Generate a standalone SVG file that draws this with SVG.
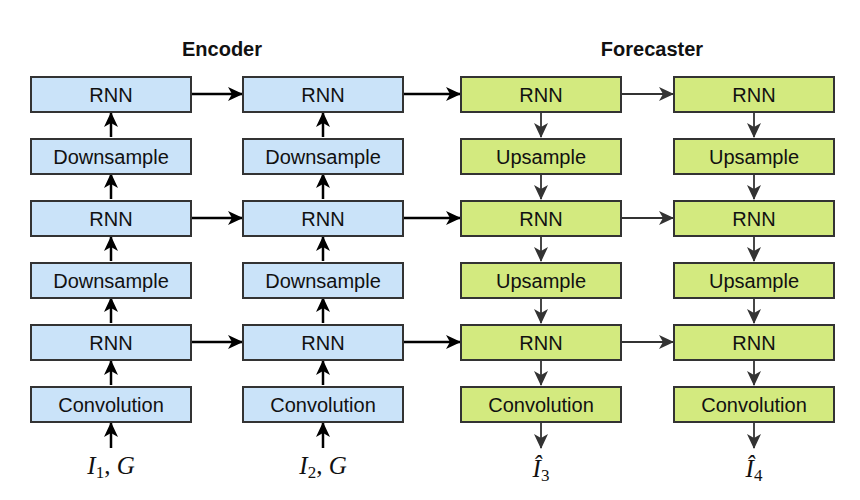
<svg xmlns="http://www.w3.org/2000/svg" width="860" height="500" viewBox="0 0 860 500">
<style>
.enc rect{fill:#cae3f9;stroke:#333;stroke-width:2}
.fc rect{fill:#d3ea7f;stroke:#333;stroke-width:2}
.lbl{font-family:"Liberation Sans",Arial,sans-serif;font-size:20px;fill:#111;text-anchor:middle}
.title{font-family:"Liberation Sans",Arial,sans-serif;font-size:20px;font-weight:bold;fill:#111;text-anchor:middle}
.math{font-family:"Liberation Serif","Times New Roman",serif;font-size:25px;fill:#111;text-anchor:middle}
.blk{stroke:#000;stroke-width:2.5;fill:none;marker-end:url(#ab)}
.gry{stroke:#333;stroke-width:1.8;fill:none;marker-end:url(#ag)}
</style>
<defs>
<marker id="ab" markerUnits="userSpaceOnUse" markerWidth="16" markerHeight="14" refX="14" refY="7" orient="auto" viewBox="0 0 16 14">
<path d="M0,0 L15,7 L0,14 L4,7 z" fill="#000"/>
</marker>
<marker id="ag" markerUnits="userSpaceOnUse" markerWidth="16" markerHeight="14" refX="14" refY="7" orient="auto" viewBox="0 0 16 14">
<path d="M0,0 L15,7 L0,14 L4,7 z" fill="#333"/>
</marker>
</defs>
<text class="title" x="222" y="56">Encoder</text>
<text class="title" x="652" y="56">Forecaster</text>

<g id="connectors">
<path class="blk" d="M111,448 V423"/>
<path class="blk" d="M111,385 V361"/>
<path class="blk" d="M111,323 V298"/>
<path class="blk" d="M111,261 V237"/>
<path class="blk" d="M111,199 V174"/>
<path class="blk" d="M111,137 V113"/>
<path class="blk" d="M323,448 V423"/>
<path class="blk" d="M323,385 V361"/>
<path class="blk" d="M323,323 V298"/>
<path class="blk" d="M323,261 V237"/>
<path class="blk" d="M323,199 V174"/>
<path class="blk" d="M323,137 V113"/>
<path class="blk" d="M191,94 H242"/>
<path class="blk" d="M191,218 H242"/>
<path class="blk" d="M191,342 H242"/>
<path class="blk" d="M403,94 H460"/>
<path class="blk" d="M403,218 H460"/>
<path class="blk" d="M403,342 H460"/>
<path class="gry" d="M622,94 H673"/>
<path class="gry" d="M622,218 H673"/>
<path class="gry" d="M622,342 H673"/>
<path class="gry" d="M541,113 V137"/>
<path class="gry" d="M541,175 V199"/>
<path class="gry" d="M541,237 V261"/>
<path class="gry" d="M541,299 V323"/>
<path class="gry" d="M541,361 V385"/>
<path class="gry" d="M541,423 V448"/>
<path class="gry" d="M754,113 V137"/>
<path class="gry" d="M754,175 V199"/>
<path class="gry" d="M754,237 V261"/>
<path class="gry" d="M754,299 V323"/>
<path class="gry" d="M754,361 V385"/>
<path class="gry" d="M754,423 V448"/>
</g>

<g id="e1-rnn3" class="enc"><rect x="31" y="77" width="160" height="35"/><text class="lbl" x="111" y="101.5">RNN</text></g>
<g id="e1-down2" class="enc"><rect x="31" y="139" width="160" height="35"/><text class="lbl" x="111" y="163.5">Downsample</text></g>
<g id="e1-rnn2" class="enc"><rect x="31" y="201" width="160" height="35"/><text class="lbl" x="111" y="225.5">RNN</text></g>
<g id="e1-down1" class="enc"><rect x="31" y="263" width="160" height="35"/><text class="lbl" x="111" y="287.5">Downsample</text></g>
<g id="e1-rnn1" class="enc"><rect x="31" y="325" width="160" height="35"/><text class="lbl" x="111" y="349.5">RNN</text></g>
<g id="e1-conv" class="enc"><rect x="31" y="387" width="160" height="35"/><text class="lbl" x="111" y="411.5">Convolution</text></g>

<g id="e2-rnn3" class="enc"><rect x="243" y="77" width="160" height="35"/><text class="lbl" x="323" y="101.5">RNN</text></g>
<g id="e2-down2" class="enc"><rect x="243" y="139" width="160" height="35"/><text class="lbl" x="323" y="163.5">Downsample</text></g>
<g id="e2-rnn2" class="enc"><rect x="243" y="201" width="160" height="35"/><text class="lbl" x="323" y="225.5">RNN</text></g>
<g id="e2-down1" class="enc"><rect x="243" y="263" width="160" height="35"/><text class="lbl" x="323" y="287.5">Downsample</text></g>
<g id="e2-rnn1" class="enc"><rect x="243" y="325" width="160" height="35"/><text class="lbl" x="323" y="349.5">RNN</text></g>
<g id="e2-conv" class="enc"><rect x="243" y="387" width="160" height="35"/><text class="lbl" x="323" y="411.5">Convolution</text></g>

<g id="f1-rnn3" class="fc"><rect x="461" y="77" width="160" height="35"/><text class="lbl" x="541" y="101.5">RNN</text></g>
<g id="f1-up2" class="fc"><rect x="461" y="139" width="160" height="35"/><text class="lbl" x="541" y="163.5">Upsample</text></g>
<g id="f1-rnn2" class="fc"><rect x="461" y="201" width="160" height="35"/><text class="lbl" x="541" y="225.5">RNN</text></g>
<g id="f1-up1" class="fc"><rect x="461" y="263" width="160" height="35"/><text class="lbl" x="541" y="287.5">Upsample</text></g>
<g id="f1-rnn1" class="fc"><rect x="461" y="325" width="160" height="35"/><text class="lbl" x="541" y="349.5">RNN</text></g>
<g id="f1-conv" class="fc"><rect x="461" y="387" width="160" height="35"/><text class="lbl" x="541" y="411.5">Convolution</text></g>

<g id="f2-rnn3" class="fc"><rect x="674" y="77" width="160" height="35"/><text class="lbl" x="754" y="101.5">RNN</text></g>
<g id="f2-up2" class="fc"><rect x="674" y="139" width="160" height="35"/><text class="lbl" x="754" y="163.5">Upsample</text></g>
<g id="f2-rnn2" class="fc"><rect x="674" y="201" width="160" height="35"/><text class="lbl" x="754" y="225.5">RNN</text></g>
<g id="f2-up1" class="fc"><rect x="674" y="263" width="160" height="35"/><text class="lbl" x="754" y="287.5">Upsample</text></g>
<g id="f2-rnn1" class="fc"><rect x="674" y="325" width="160" height="35"/><text class="lbl" x="754" y="349.5">RNN</text></g>
<g id="f2-conv" class="fc"><rect x="674" y="387" width="160" height="35"/><text class="lbl" x="754" y="411.5">Convolution</text></g>

<g id="in1"><text class="math" x="111" y="474"><tspan font-style="italic">I</tspan><tspan font-size="17" dy="4">1</tspan><tspan dy="-4">, </tspan><tspan font-style="italic">G</tspan></text></g>
<g id="in2"><text class="math" x="323" y="474"><tspan font-style="italic">I</tspan><tspan font-size="17" dy="4">2</tspan><tspan dy="-4">, </tspan><tspan font-style="italic">G</tspan></text></g>
<g id="out3"><text class="math" x="541" y="477"><tspan font-style="italic">Î</tspan><tspan font-size="17" dy="4">3</tspan></text></g>
<g id="out4"><text class="math" x="754" y="477"><tspan font-style="italic">Î</tspan><tspan font-size="17" dy="4">4</tspan></text></g>
</svg>
